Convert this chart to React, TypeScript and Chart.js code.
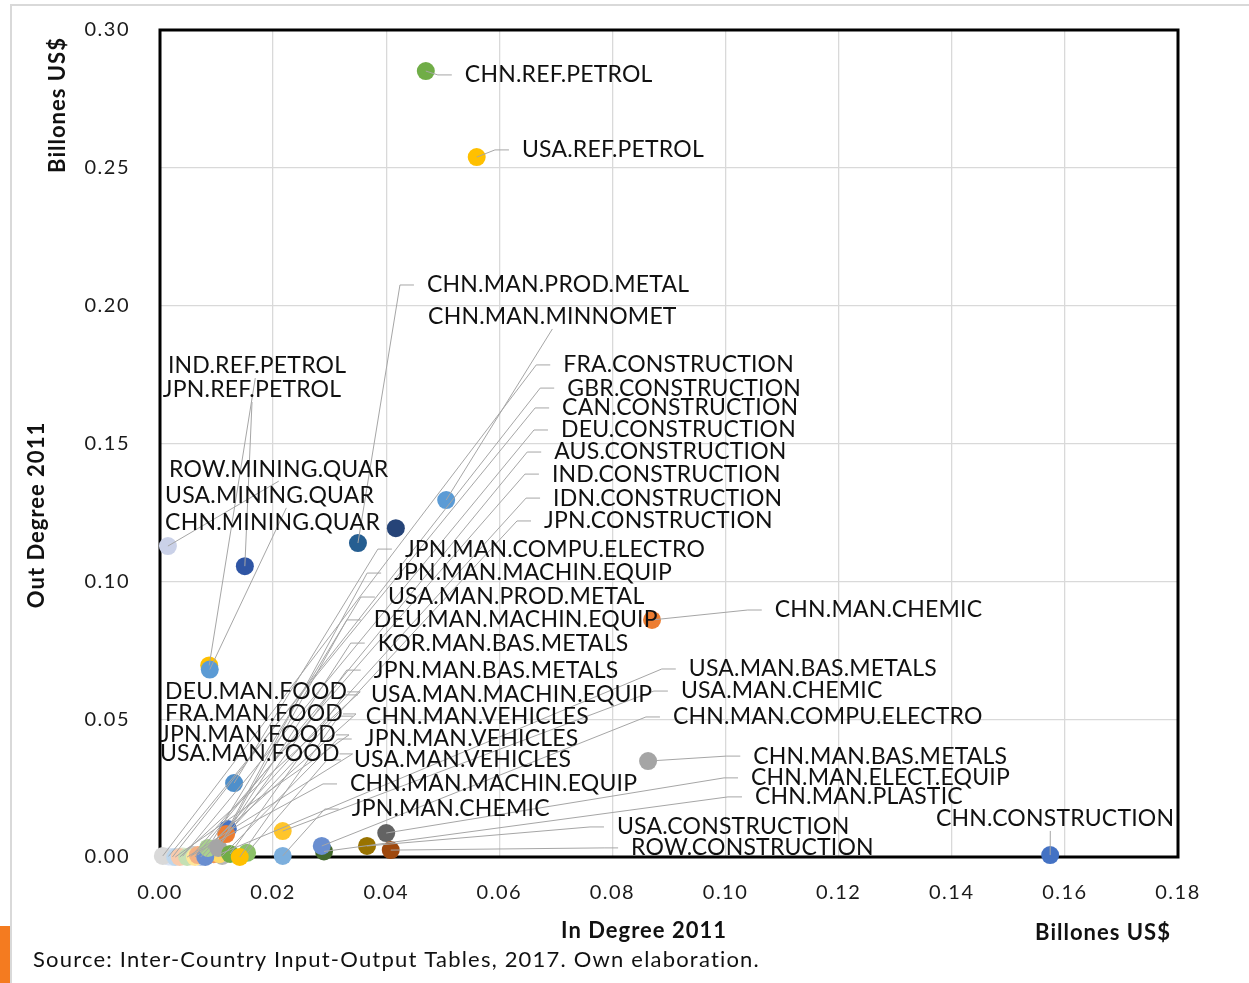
import React, { useEffect, useRef } from 'react';
import { Chart, registerables } from 'chart.js';

Chart.register(...registerables);

// ---- data (drawing order: back to front) ----
const sectors = [
  'GBR.CONSTRUCTION', 'CAN.CONSTRUCTION', 'DEU.CONSTRUCTION', 'IND.CONSTRUCTION', 'IDN.CONSTRUCTION',
  'JPN.MAN.BAS.METALS', 'JPN.MAN.VEHICLES', 'CHN.MAN.MACHIN.EQUIP', 'USA.MAN.BAS.METALS',
  'FRA.CONSTRUCTION', 'JPN.MAN.FOOD', 'DEU.MAN.FOOD', 'USA.MAN.FOOD', 'AUS.CONSTRUCTION',
  'FRA.MAN.FOOD', 'JPN.CONSTRUCTION', 'USA.MAN.PROD.METAL', 'DEU.MAN.MACHIN.EQUIP',
  'USA.MAN.MACHIN.EQUIP', 'USA.MAN.VEHICLES', 'CHN.MAN.VEHICLES', 'JPN.MAN.MACHIN.EQUIP',
  'KOR.MAN.BAS.METALS', 'JPN.MAN.COMPU.ELECTRO', 'JPN.MAN.CHEMIC', 'USA.MAN.CHEMIC',
  'CHN.MAN.PLASTIC', 'CHN.MAN.COMPU.ELECTRO', 'USA.CONSTRUCTION', 'CHN.MAN.ELECT.EQUIP',
  'ROW.CONSTRUCTION', 'CHN.CONSTRUCTION', 'CHN.MAN.BAS.METALS', 'CHN.MAN.CHEMIC',
  'IND.REF.PETROL', 'USA.MINING.QUAR', 'JPN.REF.PETROL', 'ROW.MINING.QUAR',
  'CHN.MAN.PROD.METAL', 'CHN.MINING.QUAR', 'CHN.MAN.MINNOMET', 'USA.REF.PETROL', 'CHN.REF.PETROL',
];

// In Degree 2011 (Billones US$)
const inDegree = [
  0.0022, 0.0015, 0.0040, 0.0055, 0.0072,
  0.0095, 0.0110, 0.0058, 0.0105,
  0.0005, 0.0027, 0.0035, 0.0048, 0.0062,
  0.0067, 0.0080, 0.0085, 0.0103,
  0.0124, 0.0154, 0.0141, 0.0120,
  0.0117, 0.0131, 0.0217, 0.0217,
  0.0290, 0.0286, 0.0366, 0.0400,
  0.0408, 0.1574, 0.0863, 0.0870,
  0.0087, 0.0088, 0.0150, 0.0014,
  0.0350, 0.0417, 0.0506, 0.0560, 0.0470,
];

// Out Degree 2011 (Billones US$)
const outDegree = [
  0.0000, 0.0002, 0.0003, 0.0002, 0.0000,
  0.0010, 0.0004, 0.0008, 0.0010,
  0.0004, 0.0000, 0.0000, 0.0000, 0.0000,
  0.0007, 0.0000, 0.0033, 0.0033,
  0.0011, 0.0015, 0.0000, 0.0102,
  0.0083, 0.0268, 0.0004, 0.0094,
  0.0020, 0.0040, 0.0040, 0.0087,
  0.0025, 0.0007, 0.0348, 0.0860,
  0.0695, 0.0680, 0.1055, 0.1128,
  0.1139, 0.1193, 0.1295, 0.2539, 0.2851,
];

const pointColors = [
  '#DEEBF7', '#DAE3F3', '#E2F0D9', '#FBE5D6', '#B4C7E7',
  '#F1975A', '#B7B7B7', '#C9C9C9', '#FFD966',
  '#D9D9D9', '#BDD7EE', '#F8CBAD', '#C5E0B4', '#FFE699',
  '#F4B183', '#698ED0', '#A9D18E', '#A5A5A5',
  '#70AD47', '#8CC168', '#FFC000', '#4472C4',
  '#ED7D31', '#4E8FCB', '#7CAFDD', '#FFC52A',
  '#43682B', '#698ED0', '#997300', '#636363',
  '#9E480E', '#4472C4', '#A5A5A5', '#ED7D31',
  '#FFC000', '#5B9BD5', '#2F55A4', '#CAD1E8',
  '#255E91', '#264478', '#5B9BD5', '#FFC000', '#70AD47',
];

// ---- label layout (data units: left edge / vertical middle of each label) ----
const labelLeftAt = [
  0.0720, 0.0711, 0.0709, 0.0693, 0.0695,
  0.0378, 0.0362, 0.0336, 0.0935,
  0.0713, 0.0000, 0.0009, 0.0000, 0.0697,
  0.0009, 0.0679, 0.0403, 0.0378,
  0.0373, 0.0343, 0.0364, 0.0414,
  0.0385, 0.0433, 0.0339, 0.0921,
  0.1052, 0.0907, 0.0808, 0.1045,
  0.0833, 0.1372, 0.1049, 0.1087,
  0.0014, 0.0009, 0.0005, 0.0016,
  0.0472, 0.0009, 0.0474, 0.0640, 0.0539,
];
const labelMidAt = [
  0.1701, 0.1629, 0.1549, 0.1389, 0.1302,
  0.0678, 0.0428, 0.0265, 0.0682,
  0.1785, 0.0443, 0.0599, 0.0374, 0.1469,
  0.0519, 0.1219, 0.0943, 0.0860,
  0.0588, 0.0352, 0.0511, 0.1030,
  0.0776, 0.1117, 0.0174, 0.0602,
  0.0218, 0.0508, 0.0109, 0.0287,
  0.0033, 0.0138, 0.0366, 0.0896,
  0.1781, 0.1310, 0.1694, 0.1407,
  0.2075, 0.1212, 0.1959, 0.2565, 0.2837,
];
// leader line: L = elbow on the left, R = elbow on the right, B = from the label's bottom, N = none
const leaderKind = [
  'L', 'L', 'L', 'L', 'L',
  'L', 'L', 'L', 'L',
  'L', 'R', 'R', 'R', 'L',
  'R', 'L', 'L', 'L',
  'L', 'L', 'L', 'L',
  'L', 'L', 'L', 'L',
  'L', 'L', 'L', 'L',
  'L', 'B', 'L', 'L',
  'B', 'B', 'B', 'B',
  'L', 'N', 'B', 'L', 'L',
];
const leaderFrac = [
  0, 0, 0, 0, 0,
  0, 0, 0, 0,
  0, 0, 0, 0, 0,
  0, 0, 0, 0,
  0, 0, 0, 0,
  0, 0, 0, 0,
  0, 0, 0, 0,
  0, 0.48, 0, 0,
  0.49, 0.58, 0.5, 0.5,
  0, 0, 0.5, 0, 0,
];

const xTitle = 'In Degree 2011';
const yTitle = 'Out Degree 2011';
const unitTitle = 'Billones US$';
const sourceNote = 'Source: Inter-Country Input-Output Tables, 2017. Own elaboration.';

const FONT = 'Lato, "Open Sans", "DejaVu Sans", sans-serif';
const W = 1249;
const H = 983;

const decor = {
  id: 'decor',
  beforeDraw(chart: any) {
    const ctx = chart.ctx;
    ctx.save();
    ctx.fillStyle = '#ffffff';
    ctx.fillRect(0, 0, W, H);
    ctx.strokeStyle = '#D9D9D9';
    ctx.lineWidth = 2;
    ctx.beginPath();
    ctx.moveTo(11, H);
    ctx.lineTo(11, 5);
    ctx.lineTo(W, 5);
    ctx.stroke();
    ctx.fillStyle = '#F47B20';
    ctx.fillRect(0, 926, 10, H - 926);
    ctx.restore();
    ctx.letterSpacing = '1.5px';
  },
  beforeDatasetsDraw(chart: any) {
    const ctx = chart.ctx;
    const a = chart.chartArea;
    ctx.save();
    ctx.strokeStyle = '#000000';
    ctx.lineWidth = 3;
    ctx.strokeRect(a.left, a.top, a.right - a.left, a.bottom - a.top);
    ctx.restore();
  },
  afterDatasetsDraw(chart: any) {
    const ctx = chart.ctx;
    const xs = chart.scales.x;
    const ys = chart.scales.y;
    ctx.save();
    ctx.letterSpacing = '0.2px';
    ctx.font = `23px ${FONT}`;
    ctx.textBaseline = 'middle';
    ctx.textAlign = 'left';
    // leaders
    ctx.strokeStyle = '#A6A6A6';
    ctx.lineWidth = 1;
    sectors.forEach((name, i) => {
      const px = xs.getPixelForValue(inDegree[i]);
      const py = ys.getPixelForValue(outDegree[i]);
      const lx = xs.getPixelForValue(labelLeftAt[i]);
      const ly = ys.getPixelForValue(labelMidAt[i]);
      const w = ctx.measureText(name).width;
      const kind = leaderKind[i];
      ctx.beginPath();
      if (kind === 'L') {
        ctx.moveTo(px, py);
        ctx.lineTo(lx - 27, ly);
        ctx.lineTo(lx - 13, ly);
      } else if (kind === 'R') {
        ctx.moveTo(px, py);
        ctx.lineTo(lx + w + 13, ly);
        ctx.lineTo(lx + w, ly);
      } else if (kind === 'B') {
        ctx.moveTo(px, py);
        ctx.lineTo(lx + w * leaderFrac[i], ly + 12);
      }
      ctx.stroke();
    });
    // labels
    ctx.fillStyle = '#111111';
    sectors.forEach((name, i) => {
      const lx = xs.getPixelForValue(labelLeftAt[i]);
      const ly = ys.getPixelForValue(labelMidAt[i]);
      ctx.fillText(name, lx, ly);
    });
    // titles
    ctx.textAlign = 'center';
    ctx.font = `bold 22px ${FONT}`;
    ctx.letterSpacing = '1px';
    ctx.fillText(xTitle, 644, 931);
    ctx.fillText(unitTitle, 1103, 933);
    ctx.save();
    ctx.translate(37, 515);
    ctx.rotate(-Math.PI / 2);
    ctx.fillText(yTitle, 0, 0);
    ctx.restore();
    ctx.save();
    ctx.translate(58, 105);
    ctx.rotate(-Math.PI / 2);
    ctx.fillText(unitTitle, 0, 0);
    ctx.restore();
    ctx.textAlign = 'left';
    ctx.font = `22px ${FONT}`;
    ctx.letterSpacing = '1.2px';
    ctx.fillText(sourceNote, 33, 960);
    ctx.restore();
  },
};

export default function App() {
  const ref = useRef<HTMLCanvasElement | null>(null);
  useEffect(() => {
    document.body.style.margin = '0';
    const canvas = ref.current;
    if (!canvas) return;
    const chart = new Chart(canvas, {
      type: 'scatter',
      data: {
        datasets: [
          {
            data: inDegree.map((x, i) => ({ x, y: outDegree[i] })),
            backgroundColor: pointColors,
            pointRadius: 9,
            pointHoverRadius: 9,
            borderWidth: 0,
            clip: false as any,
          } as any,
        ],
      },
      options: {
        responsive: false,
        animation: false,
        events: [],
        layout: { padding: { left: 0, right: 71, top: 30, bottom: 0 } },
        plugins: {
          legend: { display: false },
          tooltip: { enabled: false },
          title: { display: false },
        },
        scales: {
          x: {
            type: 'linear',
            min: 0,
            max: 0.18,
            afterFit: (s: any) => {
              s.height = 126;
              s.paddingLeft = 0;
              s.paddingRight = 0;
            },
            ticks: {
              stepSize: 0.02,
              autoSkip: false,
              maxRotation: 0,
              padding: 24,
              color: '#1a1a1a',
              font: { family: FONT, size: 20 },
              callback: (v: any) => Number(v).toFixed(2),
            },
            grid: { color: '#D9D9D9', lineWidth: 1.3, drawTicks: false },
            border: { display: false },
          },
          y: {
            type: 'linear',
            min: 0,
            max: 0.3,
            afterFit: (s: any) => {
              s.width = 160;
              s.paddingTop = 0;
              s.paddingBottom = 0;
            },
            ticks: {
              stepSize: 0.05,
              autoSkip: false,
              padding: 30,
              color: '#1a1a1a',
              font: { family: FONT, size: 20 },
              callback: (v: any) => Number(v).toFixed(2),
            },
            grid: { color: '#D9D9D9', lineWidth: 1.3, drawTicks: false },
            border: { display: false },
          },
        },
      },
      plugins: [decor as any],
    });
    return () => chart.destroy();
  }, []);
  return (
    <div style={{ position: 'absolute', left: 0, top: 0, width: W, height: H }}>
      <canvas ref={ref} width={W} height={H} style={{ display: 'block' }} />
    </div>
  );
}
